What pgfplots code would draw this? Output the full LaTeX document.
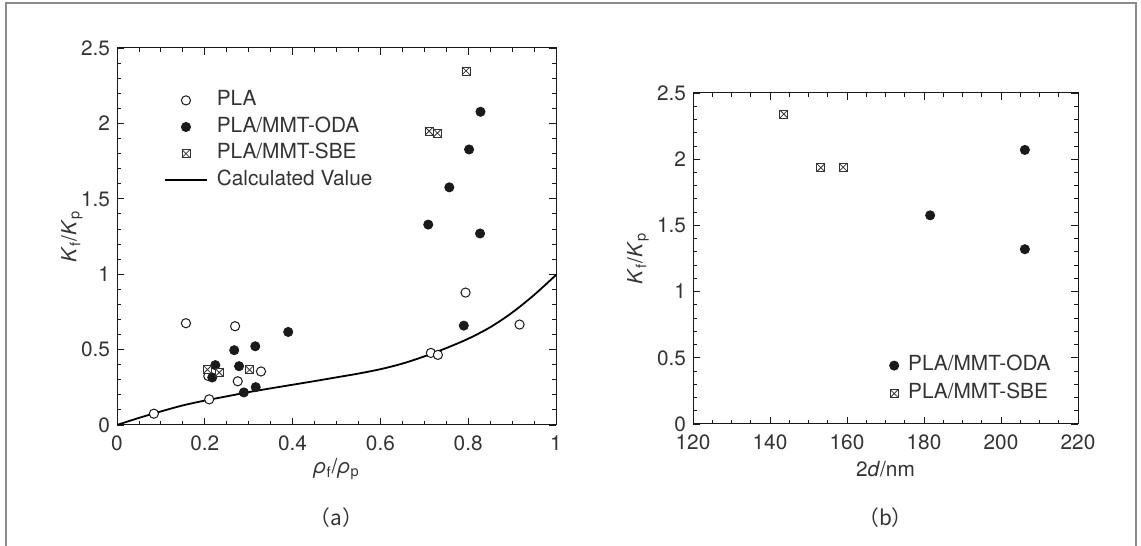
\documentclass[border=0pt]{standalone}
\usepackage{fontspec}
\setmainfont{TeX Gyre Heros}
\newfontfamily\cjk{Noto Sans CJK SC}
\usepackage{pgfplots}
\pgfplotsset{compat=1.18}

\definecolor{txt}{HTML}{333333}
\definecolor{frame}{HTML}{8C8C8C}
\definecolor{dot}{HTML}{1A1A1A}

% square with a cross inside
\pgfdeclareplotmark{sqx}{%
  \pgfpathrectangle{\pgfqpoint{-\pgfplotmarksize}{-\pgfplotmarksize}}{\pgfqpoint{2\pgfplotmarksize}{2\pgfplotmarksize}}%
  \pgfusepathqfillstroke
  \pgfpathmoveto{\pgfqpoint{-\pgfplotmarksize}{-\pgfplotmarksize}}%
  \pgfpathlineto{\pgfqpoint{\pgfplotmarksize}{\pgfplotmarksize}}%
  \pgfpathmoveto{\pgfqpoint{-\pgfplotmarksize}{\pgfplotmarksize}}%
  \pgfpathlineto{\pgfqpoint{\pgfplotmarksize}{-\pgfplotmarksize}}%
  \pgfusepathqstroke}

\newcommand{\fs}{\fontsize{10.4}{12}\selectfont}

\pgfplotsset{
  kbase/.style={
    scale only axis, anchor=south west,
    axis line style={line width=0.5pt, black!90},
    tick style={line width=0.45pt, black!90},
    major tick length=3.6pt, minor tick length=2.1pt,
    tick align=inside, xtick pos=both, ytick pos=both,
    ticklabel style={font=\fs, text=txt},
    xticklabel style={yshift=-2pt},
    label style={font=\fs, text=txt},
    /pgf/number format/assume math mode=true,
    ylabel style={at={(axis description cs:0,0.5)}, anchor=center},
    xlabel style={at={(axis description cs:0.5,0)}, anchor=center},
    legend style={draw=none, fill=none, inner sep=0pt, outer sep=0pt,
      font=\fs, text=txt,
      nodes={text height=7.6pt, text depth=2.2pt, inner sep=1.5pt}},
  },
  pla/.style={only marks, mark=*, mark size=2.3pt, mark options={draw=dot, fill=white, line width=0.5pt}},
  oda/.style={only marks, mark=*, mark size=2.3pt, mark options={draw=dot, fill=dot, line width=0.4pt}},
  sbe/.style={only marks, mark=sqx, mark size=2pt, mark options={draw=black!80, fill=white, line width=0.4pt}},
  calc/.style={no marks, smooth, black, line width=0.9pt},
  calcleg/.style={calc, legend image code/.code={\draw[##1] (-2pt,0pt) -- (19pt,0pt);}},
  dotleg/.style={legend image code/.code={\draw[##1] plot coordinates {(0pt,0pt)};}},
}

\begin{document}
\begin{tikzpicture}
\useasboundingbox (0,0) rectangle (570.5pt,273pt);
\draw[frame, line width=0.75pt] (3pt,0pt) -- (3pt,271.5pt) -- (568pt,271.5pt) -- (568pt,0pt);

% (a)
\begin{axis}[kbase, at={(58.5pt,60.5pt)}, width=219.5pt, height=188.5pt,
  xmin=0, xmax=1, ymin=0, ymax=2.5,
  xtick={0,0.2,0.4,0.6,0.8,1}, minor x tick num=3,
  ytick={0,0.5,1,1.5,2,2.5}, minor y tick num=4,
  xlabel={\textit{ρ}\textsubscript{f}/\textit{ρ}\textsubscript{p}},
  ylabel={\textit{K}\textsubscript{f}/\textit{K}\textsubscript{p}},
  xlabel style={yshift=-22pt}, ylabel style={yshift=22.5pt},
  legend style={at={(axis description cs:0,1)}, anchor=north west,
    xshift=23.5pt, yshift=-19.8pt, row sep=0.5pt, column sep=3pt},
  legend cell align=left]
\addplot[calc, forget plot] coordinates {
  (0,0) (0.05,0.047) (0.1,0.09) (0.15,0.13) (0.2,0.162) (0.25,0.19)
  (0.3,0.218) (0.35,0.243) (0.4,0.267) (0.45,0.291) (0.5,0.316) (0.55,0.341)
  (0.6,0.37) (0.65,0.407) (0.7,0.455) (0.75,0.51) (0.8,0.572) (0.85,0.648)
  (0.9,0.745) (0.95,0.862) (1,0.995)};
\addplot[pla] coordinates {
  (0.084,0.075) (0.157,0.675) (0.269,0.655) (0.21,0.17) (0.208,0.325)
  (0.275,0.29) (0.328,0.355) (0.794,0.878) (0.917,0.666) (0.715,0.478) (0.731,0.465)};
\addlegendentry{PLA}
\addplot[oda] coordinates {
  (0.224,0.397) (0.217,0.315) (0.267,0.496) (0.278,0.39) (0.315,0.522)
  (0.289,0.216) (0.316,0.251) (0.39,0.617) (0.828,2.077) (0.802,1.827)
  (0.757,1.576) (0.709,1.329) (0.827,1.27) (0.79,0.659)};
\addlegendentry{PLA/MMT-ODA}
\addplot[sbe] coordinates {
  (0.206,0.368) (0.233,0.348) (0.302,0.366) (0.795,2.348) (0.711,1.949) (0.730,1.936)};
\addlegendentry{PLA/MMT-SBE}
\addlegendimage{calcleg}
\addlegendentry{Calculated Value}
\end{axis}

% (b)
\begin{axis}[kbase, dotleg, at={(346.5pt,61pt)}, width=192.5pt, height=165.5pt,
  xmin=120, xmax=220, ymin=0, ymax=2.5,
  xtick={120,140,160,180,200,220}, minor x tick num=3,
  ytick={0,0.5,1,1.5,2,2.5}, minor y tick num=4,
  xlabel={2\textit{d}/nm},
  ylabel={\textit{K}\textsubscript{f}/\textit{K}\textsubscript{p}},
  xlabel style={yshift=-22.5pt}, ylabel style={yshift=27.5pt},
  legend style={at={(axis description cs:0,0)}, anchor=south west,
    xshift=98.3pt, yshift=8.8pt, row sep=1.2pt, column sep=3.2pt},
  legend cell align=left]
\addplot[oda] coordinates {(206.2,2.07) (181.6,1.576) (206.2,1.32)};
\addlegendentry{PLA/MMT-ODA}
\addplot[sbe] coordinates {(143.6,2.341) (153.2,1.936) (159.0,1.939)};
\addlegendentry{PLA/MMT-SBE}
\end{axis}

\node[font=\cjk\fs, text=txt] at (168.25pt,14pt) {（a）};
\node[font=\cjk\fs, text=txt] at (442.75pt,14pt) {（b）};
\end{tikzpicture}
\end{document}
